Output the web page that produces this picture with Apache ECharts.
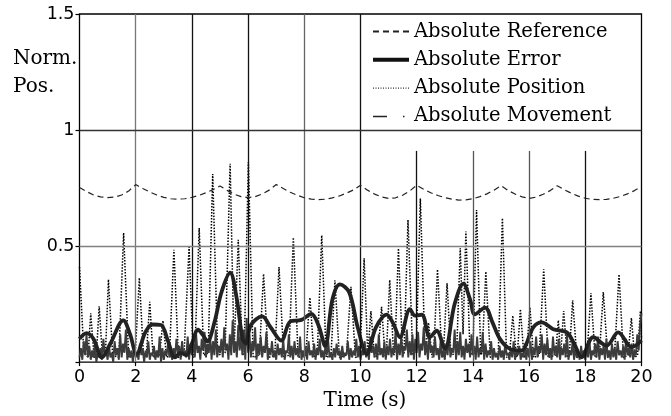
<!DOCTYPE html>
<html>
<head>
<meta charset="utf-8">
<script src="https://cdn.jsdelivr.net/npm/echarts@6/dist/echarts.min.js"></script>
<style>html,body{margin:0;padding:0;background:#fff;}#c{width:671px;height:416px;}</style>
</head>
<body>
<div id="c"></div>
<script>
// ---- data ----
const xTickValues = [0, 2, 4, 6, 8, 10, 12, 14, 16, 18, 20];
const yTickValues = [0, 0.5, 1, 1.5];
const seriesNames = ['Absolute Reference', 'Absolute Error', 'Absolute Position', 'Absolute Movement'];

// Absolute Reference (dashed), [time, value]
const referenceData = [
  [0,0.752],[0.25,0.735],[0.5,0.72],[0.75,0.712],[1.0,0.709],[1.25,0.711],[1.5,0.72],[1.75,0.737],[2.0,0.765],
  [2.25,0.748],[2.5,0.733],[2.75,0.72],[3.0,0.71],[3.25,0.704],[3.5,0.702],[3.75,0.704],[4.0,0.71],[4.25,0.718],[4.5,0.73],[4.75,0.743],[5.0,0.759],
  [5.25,0.74],[5.5,0.724],[5.75,0.713],[6.0,0.709],[6.25,0.713],[6.5,0.724],[6.75,0.741],[7.0,0.765],
  [7.25,0.748],[7.5,0.732],[7.75,0.719],[8.0,0.708],[8.25,0.702],[8.5,0.70],[8.75,0.702],[9.0,0.708],[9.25,0.716],[9.5,0.728],[9.75,0.742],[10.0,0.762],
  [10.25,0.741],[10.5,0.724],[10.75,0.712],[11.0,0.705],[11.25,0.708],[11.5,0.719],[11.75,0.737],[12.0,0.762],
  [12.25,0.745],[12.5,0.73],[12.75,0.718],[13.0,0.709],[13.25,0.702],[13.5,0.698],[13.75,0.699],[14.0,0.704],[14.25,0.713],[14.5,0.725],[14.75,0.741],[15.0,0.76],
  [15.25,0.74],[15.5,0.724],[15.75,0.712],[16.0,0.705],[16.25,0.711],[16.5,0.723],[16.75,0.739],[17.0,0.76],
  [17.25,0.743],[17.5,0.728],[17.75,0.715],[18.0,0.706],[18.25,0.701],[18.5,0.70],[18.75,0.701],[19.0,0.706],[19.25,0.714],[19.5,0.725],[19.75,0.739],[20.0,0.757]
];

// Absolute Error (thick solid), [time, value]
const errorData = [
  [0,0.10],[0.25,0.125],[0.5,0.10],[0.8,0.02],[1.1,0.08],[1.56,0.18],[1.8,0.12],[2.03,0.035],[2.35,0.13],[2.6,0.162],[2.9,0.16],
  [3.15,0.09],[3.4,0.02],[3.6,0.04],[3.8,0.03],[4.0,0.08],[4.22,0.14],[4.4,0.115],[4.55,0.09],[4.8,0.17],[5.05,0.3],[5.36,0.385],
  [5.6,0.27],[5.8,0.1],[5.92,0.08],[6.1,0.16],[6.5,0.197],[6.8,0.15],[7.18,0.093],[7.5,0.175],[7.9,0.182],[8.25,0.208],[8.5,0.16],
  [8.74,0.07],[9.0,0.27],[9.27,0.335],[9.6,0.3],[9.9,0.15],[10.22,0.035],[10.55,0.15],[10.93,0.205],[11.15,0.17],[11.4,0.107],
  [11.76,0.228],[11.94,0.2],[12.18,0.204],[12.47,0.107],[12.71,0.135],[13.0,0.057],[13.35,0.25],[13.66,0.338],[13.9,0.27],
  [14.07,0.206],[14.43,0.235],[14.7,0.17],[14.96,0.10],[15.32,0.057],[15.74,0.05],[15.9,0.078],[16.15,0.15],[16.45,0.171],
  [16.86,0.142],[17.34,0.128],[17.6,0.08],[17.87,0.021],[18.28,0.107],[18.76,0.071],[19.17,0.128],[19.65,0.064],[20,0.093]
];

// Absolute Position (dotted spikes), [time, value]
const positionData = [
  [0,0.41],[0.15,0.05],[0.3,0.02],[0.4,0.21],[0.52,0.02],[0.6,0.03],[0.7,0.24],[0.82,0.02],[0.92,0.03],[1.03,0.356],[1.18,0.03],
  [1.4,0.02],[1.57,0.557],[1.75,0.02],[1.98,0.03],[2.13,0.363],[2.28,0.02],[2.38,0.03],[2.5,0.26],[2.62,0.02],[2.85,0.03],[2.97,0.178],
  [3.1,0.02],[3.2,0.03],[3.36,0.484],[3.52,0.02],[3.72,0.03],[3.9,0.496],[4.05,0.02],[4.1,0.03],[4.26,0.578],[4.42,0.03],[4.58,0.04],
  [4.74,0.81],[4.92,0.03],[5.18,0.04],[5.36,0.855],[5.5,0.05],[5.65,0.527],[5.8,0.03],[5.86,0.04],[6.01,0.862],[6.18,0.02],[6.4,0.03],
  [6.55,0.38],[6.72,0.02],[6.95,0.03],[7.1,0.41],[7.27,0.02],[7.45,0.03],[7.61,0.537],[7.78,0.02],[8.05,0.03],[8.2,0.278],[8.35,0.02],
  [8.46,0.03],[8.62,0.546],[8.78,0.02],[8.95,0.03],[9.09,0.352],[9.25,0.02],[9.5,0.03],[9.66,0.325],[9.82,0.02],[9.98,0.03],[10.13,0.447],
  [10.26,0.03],[10.37,0.22],[10.5,0.02],[10.62,0.03],[10.75,0.238],[10.88,0.02],[10.92,0.03],[11.04,0.354],[11.18,0.03],[11.22,0.04],
  [11.35,0.49],[11.5,0.03],[11.55,0.04],[11.69,0.613],[11.86,0.03],[11.98,0.04],[12.13,0.705],[12.3,0.03],[12.42,0.17],[12.55,0.02],
  [12.6,0.03],[12.74,0.399],[12.9,0.03],[12.95,0.04],[13.08,0.34],[13.22,0.03],[13.42,0.04],[13.55,0.49],[13.65,0.12],[13.75,0.563],
  [13.9,0.03],[14.0,0.04],[14.13,0.655],[14.28,0.03],[14.33,0.04],[14.46,0.39],[14.62,0.02],[14.9,0.03],[15.05,0.62],[15.2,0.02],
  [15.3,0.03],[15.42,0.2],[15.55,0.02],[15.58,0.03],[15.69,0.228],[15.82,0.02],[15.9,0.03],[16.03,0.235],[16.16,0.02],[16.36,0.03],
  [16.52,0.4],[16.68,0.02],[16.94,0.03],[17.04,0.18],[17.12,0.03],[17.23,0.22],[17.36,0.02],[17.43,0.03],[17.55,0.266],[17.7,0.02],
  [18.06,0.03],[18.2,0.297],[18.35,0.02],[18.5,0.03],[18.64,0.302],[18.8,0.02],[19.04,0.03],[19.2,0.378],[19.36,0.02],[19.52,0.03],
  [19.64,0.19],[19.76,0.02],[19.86,0.03],[19.96,0.22],[20,0.1]
];

// Absolute Movement (noisy), one value every 0.05 s from 0 to 20 s
const movementStep = 0.05;
const movementValues = [
  0.02,0.06,0.01,0.09,0.03,0.12,0.02,0.07,0.01,0.05,0.02,0.08,0.00,0.04,0.02,0.06,0.01,0.10,0.03,0.05,
  0.01,0.07,0.02,0.04,0.00,0.09,0.03,0.06,0.01,0.12,0.02,0.08,0.04,0.14,0.01,0.06,0.02,0.05,0.00,0.07,
  0.02,0.04,0.01,0.08,0.03,0.06,0.00,0.05,0.02,0.09,0.01,0.04,0.03,0.07,0.01,0.05,0.02,0.11,0.00,0.06,
  0.01,0.05,0.03,0.08,0.02,0.04,0.01,0.06,0.02,0.10,0.04,0.07,0.01,0.09,0.03,0.05,0.02,0.11,0.01,0.08,
  0.03,0.09,0.02,0.12,0.04,0.07,0.01,0.10,0.05,0.13,0.02,0.08,0.04,0.11,0.01,0.09,0.03,0.14,0.02,0.07,
  0.04,0.10,0.02,0.15,0.05,0.08,0.01,0.12,0.03,0.18,0.04,0.09,0.02,0.16,0.05,0.11,0.03,0.14,0.01,0.19,
  0.04,0.12,0.02,0.09,0.05,0.15,0.01,0.08,0.03,0.11,0.02,0.07,0.04,0.13,0.01,0.06,0.03,0.09,0.02,0.05,
  0.01,0.08,0.03,0.06,0.02,0.10,0.01,0.05,0.04,0.12,0.02,0.07,0.01,0.09,0.03,0.06,0.02,0.11,0.01,0.05,
  0.02,0.07,0.01,0.09,0.03,0.05,0.02,0.08,0.01,0.06,0.03,0.10,0.02,0.05,0.01,0.07,0.03,0.09,0.02,0.04,
  0.01,0.06,0.02,0.08,0.03,0.05,0.01,0.07,0.02,0.04,0.03,0.09,0.01,0.06,0.02,0.05,0.03,0.10,0.02,0.07,
  0.01,0.05,0.03,0.09,0.02,0.06,0.01,0.11,0.04,0.07,0.02,0.08,0.01,0.12,0.03,0.06,0.02,0.09,0.01,0.07,
  0.03,0.10,0.02,0.06,0.04,0.13,0.01,0.08,0.03,0.11,0.02,0.07,0.05,0.14,0.02,0.09,0.03,0.12,0.01,0.10,
  0.04,0.13,0.02,0.08,0.05,0.15,0.03,0.09,0.01,0.12,0.04,0.07,0.02,0.11,0.03,0.06,0.01,0.09,0.02,0.05,
  0.01,0.08,0.03,0.12,0.02,0.06,0.04,0.14,0.01,0.09,0.03,0.13,0.02,0.07,0.01,0.10,0.04,0.08,0.02,0.12,
  0.03,0.07,0.01,0.11,0.02,0.06,0.04,0.13,0.01,0.08,0.02,0.05,0.03,0.09,0.01,0.06,0.02,0.04,0.01,0.07,
  0.02,0.05,0.01,0.08,0.03,0.04,0.01,0.06,0.02,0.09,0.01,0.05,0.03,0.07,0.01,0.04,0.02,0.08,0.01,0.06,
  0.02,0.09,0.01,0.06,0.03,0.11,0.02,0.07,0.04,0.12,0.01,0.08,0.03,0.10,0.02,0.06,0.01,0.11,0.03,0.07,
  0.02,0.10,0.01,0.06,0.03,0.08,0.02,0.12,0.01,0.05,0.03,0.09,0.01,0.06,0.02,0.04,0.01,0.07,0.02,0.05,
  0.01,0.06,0.02,0.09,0.01,0.05,0.03,0.08,0.02,0.11,0.01,0.06,0.03,0.07,0.01,0.10,0.02,0.05,0.01,0.08,
  0.02,0.06,0.01,0.09,0.03,0.05,0.02,0.07,0.01,0.10,0.03,0.06,0.02,0.08,0.01,0.05,0.03,0.12,0.05,0.16,
  0.21
];

// ---- chart ----
const movementData = movementValues.map((v, i) => [+(i * movementStep).toFixed(2), v]);

const serifFont = '"DejaVu Serif", serif';
const sansFont = '"DejaVu Sans", sans-serif';

// grid lines (drawn through the axes)
function vLine(x, yTop, color) {
  return [{ coord: [x, 0], lineStyle: { color: color, width: 1.3, type: 'solid' } },
          { coord: [x, yTop], lineStyle: { color: color, width: 1.3, type: 'solid' } }];
}
function hLine(y, color) {
  return [{ coord: [0, y], lineStyle: { color: color, width: 1.3, type: 'solid' } },
          { coord: [20, y], lineStyle: { color: color, width: 1.3, type: 'solid' } }];
}
const gridLines = [
  vLine(2, 1.5, '#777'), vLine(4, 1.5, '#111'), vLine(6, 1.5, '#111'), vLine(8, 1.5, '#666'),
  vLine(10, 1.5, '#111'), vLine(12, 0.91, '#111'), vLine(14, 0.91, '#555'), vLine(16, 0.91, '#555'),
  vLine(18, 0.91, '#111'),
  hLine(0.5, '#808080'), hLine(1, '#333')
];

const chart = echarts.init(document.getElementById('c'), null, { renderer: 'canvas' });
chart.setOption({
  animation: false,
  backgroundColor: '#fff',
  grid: { left: 79.5, right: 29.5, top: 14, bottom: 51, show: true, borderColor: '#000', borderWidth: 1.3, backgroundColor: 'transparent' },
  legend: {
    orient: 'vertical', left: 371, top: 21.5, padding: 0,
    itemWidth: 36, itemHeight: 14, itemGap: 8.3,
    itemStyle: { opacity: 0 },
    data: [
      { name: seriesNames[0] },
      { name: seriesNames[1], lineStyle: { width: 4, color: '#111' } },
      { name: seriesNames[2], lineStyle: { width: 1.1, color: '#333', type: [1, 1.5] } },
      { name: seriesNames[3], lineStyle: { type: [14, 16, 1.5, 20], width: 1.5, color: '#222' } }
    ],
    textStyle: { fontFamily: serifFont, fontSize: 19.5, color: '#000', lineHeight: 20 },
    selectedMode: false
  },
  graphic: [{
    type: 'text', left: 13, top: 44.5,
    style: { text: 'Norm.\nPos.', font: '20px ' + serifFont, fill: '#000', lineHeight: 28.5 }
  }],
  xAxis: [{
    type: 'value', min: xTickValues[0], max: xTickValues[xTickValues.length - 1], interval: 2,
    name: 'Time (s)', nameLocation: 'middle', nameGap: 20,
    nameTextStyle: { fontFamily: serifFont, fontSize: 20, color: '#000', padding: [0, 0, 0, 9] },
    axisLine: { show: false }, axisTick: { show: false }, splitLine: { show: false },
    axisLabel: { fontFamily: sansFont, fontSize: 17.5, color: '#000', margin: 6 }
  }, {
    type: 'value', position: 'top', min: 0, max: 20, interval: 2,
    axisLine: { show: false }, axisLabel: { show: false }, splitLine: { show: false },
    axisTick: { show: true, inside: true, length: 4, lineStyle: { color: '#000', width: 1.2 } }
  }],
  yAxis: [{
    type: 'value', min: yTickValues[0], max: yTickValues[yTickValues.length - 1], interval: 0.5,
    axisLine: { show: false }, axisTick: { show: false }, splitLine: { show: false },
    axisLabel: { fontFamily: sansFont, fontSize: 17.5, color: '#000', margin: 5,
      formatter: v => (v === 0 ? '' : String(v)) }
  }, {
    type: 'value', position: 'right', min: 0, max: 1.5, interval: 0.5,
    axisLine: { show: false }, axisLabel: { show: false }, splitLine: { show: false },
    axisTick: { show: true, inside: true, length: 4, lineStyle: { color: '#000', width: 1.2 } }
  }],
  series: [
    {
      name: 'grid', type: 'line', data: [], z: 1, silent: true,
      markLine: { silent: true, symbol: 'none', label: { show: false }, animation: false, data: gridLines }
    },
    {
      name: seriesNames[2], type: 'line', data: positionData, showSymbol: false, symbol: 'none', z: 2,
      lineStyle: { color: '#000', width: 1.5, type: [1.5, 1.5] }, itemStyle: { color: '#000' }
    },
    {
      name: seriesNames[3], type: 'line', data: movementData, showSymbol: false, symbol: 'none', z: 3,
      lineStyle: { color: '#3c3c3c', width: 1.9 }, itemStyle: { color: '#3c3c3c' }
    },
    {
      name: seriesNames[1], type: 'line', data: errorData, showSymbol: false, symbol: 'none', z: 4,
      smooth: 0.35, lineStyle: { color: '#222', width: 3.8 }, itemStyle: { color: '#222' }
    },
    {
      name: seriesNames[0], type: 'line', data: referenceData, showSymbol: false, symbol: 'none', z: 5,
      lineStyle: { color: '#222', width: 1.2, type: [6, 4] }, itemStyle: { color: '#222' }
    }
  ]
});
</script>
</body>
</html>
